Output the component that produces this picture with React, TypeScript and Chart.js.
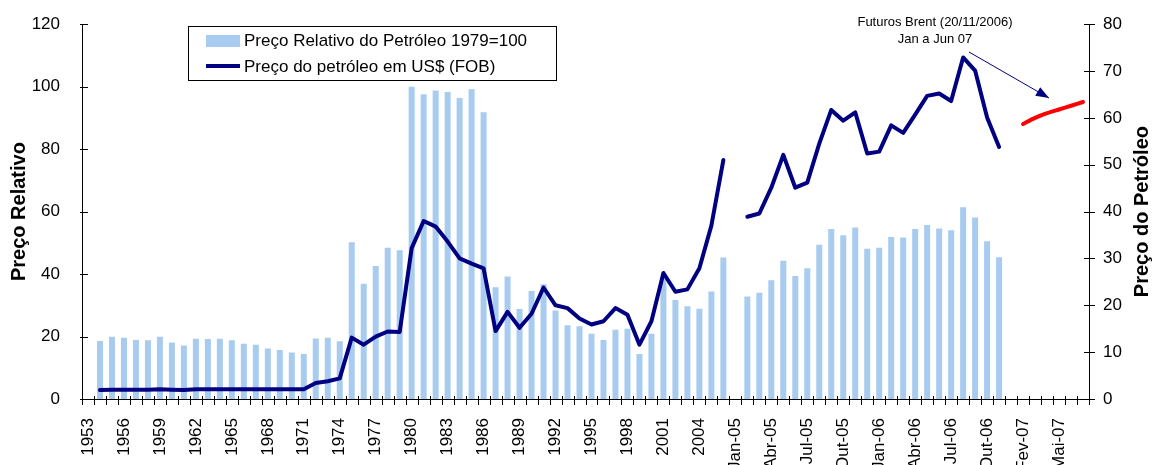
import { useEffect, useRef } from 'react';
import { Chart, registerables } from 'chart.js';
Chart.register(...registerables);

const FONT = '"Liberation Sans", Arial, sans-serif';

const categories: string[] = [
  '1953', '1954', '1955', '1956', '1957', '1958', '1959', '1960', '1961', '1962',
  '1963', '1964', '1965', '1966', '1967', '1968', '1969', '1970', '1971', '1972',
  '1973', '1974', '1975', '1976', '1977', '1978', '1979', '1980', '1981', '1982',
  '1983', '1984', '1985', '1986', '1987', '1988', '1989', '1990', '1991', '1992',
  '1993', '1994', '1995', '1996', '1997', '1998', '1999', '2000', '2001', '2002',
  '2003', '2004', '2005', '2006',
  'Jan-05', 'Fev-05', 'Mar-05', 'Abr-05', 'Mai-05', 'Jun-05', 'Jul-05', 'Ago-05',
  'Set-05', 'Out-05', 'Nov-05', 'Dez-05', 'Jan-06', 'Fev-06', 'Mar-06', 'Abr-06',
  'Mai-06', 'Jun-06', 'Jul-06', 'Ago-06', 'Set-06', 'Out-06',
  'Nov-06', 'Jan-07', 'Fev-07', 'Mar-07', 'Abr-07', 'Mai-07', 'Jun-07', 'Jul-07',
];

// Preço Relativo do Petróleo 1979=100 (left axis)
const relativePrice: (number | null)[] = [
  null, 18.6, 19.9, 19.6, 18.9, 18.8, 19.9, 18.1, 17.1, 19.3,
  19.2, 19.3, 18.8, 17.7, 17.4, 16.2, 15.7, 14.9, 14.4, 19.4,
  19.6, 18.5, 50.2, 36.9, 42.6, 48.4, 47.6, 100, 97.6, 98.8,
  98.3, 96.4, 99.2, 91.8, 35.8, 39.2, 28.8, 34.6, 36.7, 28.3,
  23.6, 23.3, 20.9, 18.9, 22.2, 22.5, 14.4, 20.9, 38.6, 31.7,
  29.7, 28.9, 34.4, 45.3,
  null, 32.8, 34.0, 38.0, 44.3, 39.4, 41.9, 49.4,
  54.4, 52.4, 54.9, 48.1, 48.4, 51.9, 51.7, 54.4,
  55.7, 54.6, 54.0, 61.4, 58.1, 50.5,
  45.4, null, null, null, null, null, null, null,
];

// Preço do petróleo em US$ (FOB) (right axis)
const oilPrice: (number | null)[] = [
  null, 1.9, 2.0, 2.0, 2.0, 2.0, 2.1, 2.0, 1.9, 2.1,
  2.1, 2.1, 2.1, 2.1, 2.1, 2.1, 2.1, 2.1, 2.1, 3.4,
  3.8, 4.4, 13.1, 11.6, 13.3, 14.4, 14.3, 32.2, 38.0, 36.8,
  33.6, 30.0, 28.9, 27.9, 14.5, 18.6, 15.2, 18.2, 23.8, 20.0,
  19.4, 17.2, 15.9, 16.6, 19.4, 18.0, 11.6, 16.6, 26.9, 22.9,
  23.4, 27.9, 37.0, 51.0,
  null, 38.9, 39.6, 45.1, 52.1, 45.1, 46.2, 54.5,
  61.7, 59.4, 61.2, 52.4, 52.8, 58.4, 56.8, 60.7,
  64.7, 65.2, 63.6, 72.9, 70.1, 60.1,
  53.8, null, null, null, null, null, null, null,
];

// Futuros Brent (20/11/2006), Jan a Jun 07 (right axis)
const brentFutures: (number | null)[] = [
  ...new Array(78).fill(null),
  58.7, 60.0, 61.0, 61.8, 62.6, 63.4,
];

const leftTicks = [0, 20, 40, 60, 80, 100, 120];
const rightTicks = [0, 10, 20, 30, 40, 50, 60, 70, 80];

const BAR_COLOR = '#A8CBF0';
const NAVY = '#000080';
const RED = '#FF0000';

export default function App() {
  const ref = useRef<HTMLCanvasElement>(null);

  useEffect(() => {
    document.body.style.margin = '0';
    const canvas = ref.current!;

    const overlay = {
      id: 'overlay',
      afterDraw(chart: any) {
        const ctx = chart.ctx as CanvasRenderingContext2D;
        const a = chart.chartArea;
        const yL = chart.scales.y;
        const yR = chart.scales.y1;
        ctx.save();
        // tick marks
        ctx.strokeStyle = '#000';
        ctx.lineWidth = 1;
        ctx.beginPath();
        const n = categories.length;
        const w = (a.right - a.left) / n;
        for (let i = 0; i <= n; i++) {
          const x = Math.round(a.left + i * w) + 0.5;
          ctx.moveTo(x, a.bottom - 3);
          ctx.lineTo(x, a.bottom + 6);
        }
        leftTicks.forEach((v) => {
          const y = Math.round(yL.getPixelForValue(v)) + 0.5;
          ctx.moveTo(a.left - 2, y);
          ctx.lineTo(a.left + 6, y);
        });
        rightTicks.forEach((v) => {
          const y = Math.round(yR.getPixelForValue(v)) + 0.5;
          ctx.moveTo(a.right - 5, y);
          ctx.lineTo(a.right + 6, y);
        });
        ctx.stroke();

        // axis titles
        ctx.fillStyle = '#000';
        ctx.font = `bold 20px ${FONT}`;
        ctx.textAlign = 'center';
        ctx.textBaseline = 'middle';
        const cy = (a.top + a.bottom) / 2;
        ctx.save();
        ctx.translate(19, cy);
        ctx.rotate(-Math.PI / 2);
        ctx.fillText('Preço Relativo', 0, 0);
        ctx.restore();
        ctx.save();
        ctx.translate(1142, cy);
        ctx.rotate(-Math.PI / 2);
        ctx.fillText('Preço do Petróleo', 0, 0);
        ctx.restore();

        // legend
        ctx.fillStyle = '#fff';
        ctx.fillRect(188, 26, 368, 54);
        ctx.strokeStyle = '#000';
        ctx.strokeRect(188.5, 26.5, 368, 54);
        ctx.fillStyle = BAR_COLOR;
        ctx.fillRect(206, 35, 34, 12);
        ctx.strokeStyle = NAVY;
        ctx.lineWidth = 4;
        ctx.beginPath();
        ctx.moveTo(206, 66);
        ctx.lineTo(240, 66);
        ctx.stroke();
        ctx.fillStyle = '#000';
        ctx.font = `17px ${FONT}`;
        ctx.textAlign = 'left';
        ctx.textBaseline = 'middle';
        ctx.fillText('Preço Relativo do Petróleo 1979=100', 244, 41);
        ctx.fillText('Preço do petróleo em US$ (FOB)', 244, 67);

        // annotation
        ctx.font = `13px ${FONT}`;
        ctx.textAlign = 'center';
        ctx.fillText('Futuros Brent (20/11/2006)', 935, 22);
        ctx.fillText('Jan a Jun 07', 935, 39);

        const x0 = 969, y0 = 52, x1 = 1049, y1 = 98;
        ctx.strokeStyle = NAVY;
        ctx.fillStyle = NAVY;
        ctx.lineWidth = 1;
        ctx.beginPath();
        ctx.moveTo(x0, y0);
        ctx.lineTo(x1, y1);
        ctx.stroke();
        const ang = Math.atan2(y1 - y0, x1 - x0);
        const L = 13, H = 5;
        ctx.beginPath();
        ctx.moveTo(x1, y1);
        ctx.lineTo(x1 - L * Math.cos(ang) + H * Math.sin(ang), y1 - L * Math.sin(ang) - H * Math.cos(ang));
        ctx.lineTo(x1 - L * Math.cos(ang) - H * Math.sin(ang), y1 - L * Math.sin(ang) + H * Math.cos(ang));
        ctx.closePath();
        ctx.fill();
        ctx.restore();
      },
    };

    const chart = new Chart(canvas, {
      type: 'bar',
      data: {
        labels: categories,
        datasets: [
          {
            type: 'line',
            label: 'Preço do petróleo em US$ (FOB)',
            data: oilPrice,
            yAxisID: 'y1',
            borderColor: NAVY,
            borderWidth: 4,
            pointRadius: 0,
            spanGaps: false,
            borderJoinStyle: 'round',
            borderCapStyle: 'round',
            tension: 0,
            order: 0,
          } as any,
          {
            type: 'line',
            label: 'Futuros Brent',
            data: brentFutures,
            yAxisID: 'y1',
            borderColor: RED,
            borderWidth: 4,
            pointRadius: 0,
            borderJoinStyle: 'round',
            borderCapStyle: 'round',
            tension: 0.3,
            order: 0,
          } as any,
          {
            type: 'bar',
            label: 'Preço Relativo do Petróleo 1979=100',
            data: relativePrice,
            yAxisID: 'y',
            backgroundColor: BAR_COLOR,
            categoryPercentage: 1,
            barPercentage: 0.5,
            order: 1,
          },
        ],
      },
      options: {
        responsive: false,
        animation: false,
        layout: { padding: { top: 19, left: 0, right: 0, bottom: 0 } },
        plugins: {
          legend: { display: false },
          tooltip: { enabled: false },
        },
        scales: {
          x: {
            type: 'category',
            offset: true,
            grid: { display: false, offset: true },
            border: { display: true, color: '#000', width: 1 },
            ticks: {
              autoSkip: false,
              maxRotation: 90,
              minRotation: 90,
              padding: 11,
              color: '#000',
              font: { family: FONT, size: 17 },
              callback: (_v: any, i: number) => (i % 3 === 0 ? categories[i] : ''),
            },
            afterFit: (s: any) => { s.height = 66; },
          },
          y: {
            position: 'left',
            min: 0,
            max: 120,
            grid: { display: false },
            border: { display: true, color: '#000', width: 1 },
            ticks: {
              stepSize: 20,
              padding: 14,
              color: '#000',
              font: { family: FONT, size: 17 },
            },
            afterFit: (s: any) => { s.width = 82; },
          },
          y1: {
            position: 'right',
            min: 0,
            max: 80,
            grid: { display: false },
            border: { display: true, color: '#000', width: 1 },
            ticks: {
              stepSize: 10,
              padding: 6,
              color: '#000',
              font: { family: FONT, size: 17 },
            },
            afterFit: (s: any) => { s.width = 63; },
          },
        },
      },
      plugins: [overlay],
    });

    return () => chart.destroy();
  }, []);

  return <canvas ref={ref} width={1152} height={465} style={{ display: 'block' }} />;
}
